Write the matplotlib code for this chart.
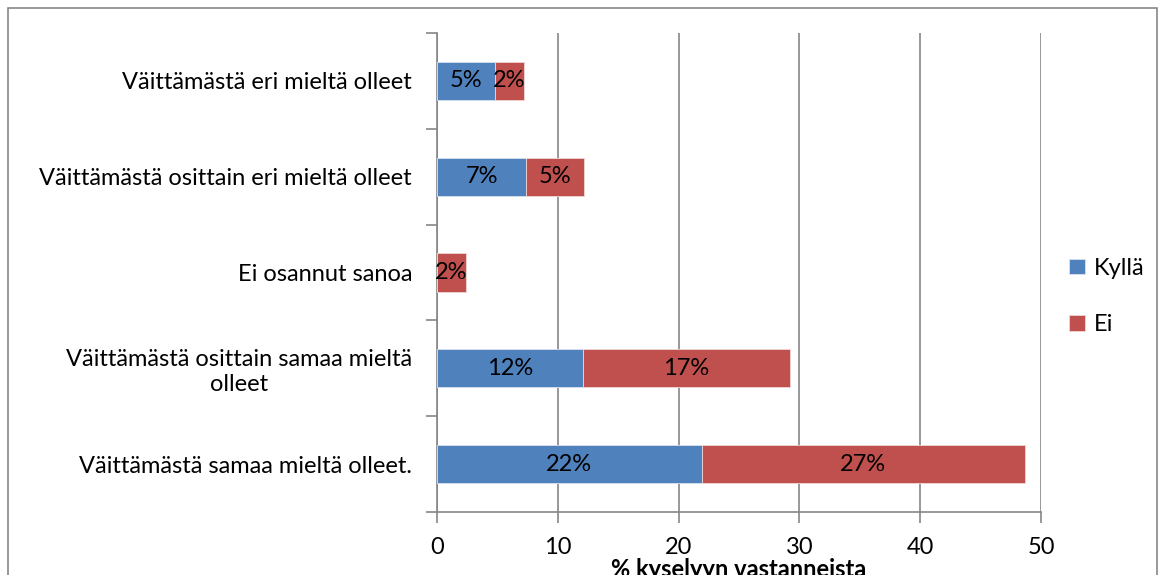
import matplotlib
matplotlib.use("Agg")
import matplotlib.pyplot as plt
from matplotlib.patches import Rectangle
import numpy as np

categories = [
    "Väittämästä samaa mieltä olleet.",
    "Väittämästä osittain samaa mieltä\nolleet",
    "Ei osannut sanoa",
    "Väittämästä osittain eri mieltä olleet",
    "Väittämästä eri mieltä olleet",
]
kylla = [21.9, 12.1, 0.0, 7.4, 4.8]
ei = [26.8, 17.1, 2.4, 4.8, 2.4]
series_names = ["Kyllä", "Ei"]
xticks = [0, 10, 20, 30, 40, 50]
xlabel = "% kyselyyn vastanneista"

blue = "#4F81BD"
red = "#C0504D"
gray = "#868686"

plt.rcParams['font.family'] = ['Lato', 'DejaVu Sans']
fs = 17

fig = plt.figure(figsize=(11.6, 5.75), dpi=100)
ax = fig.add_axes([437/1160, 1-512/575, (1041-437)/1160, (512-33)/575])

y = np.arange(len(categories))
h = 0.4
ax.barh(y, kylla, height=h, color=blue, edgecolor="#d9e2ef", linewidth=0.6, label=series_names[0], zorder=3)
ax.barh(y, ei, left=kylla, height=h, color=red, edgecolor="#efd6d5", linewidth=0.6, label=series_names[1], zorder=3)

for i in range(len(categories)):
    if kylla[i] > 0:
        ax.text(kylla[i]/2, y[i], f"{round(kylla[i]):.0f}%", ha="center", va="center", fontsize=fs, zorder=4)
    if ei[i] > 0:
        ax.text(kylla[i] + ei[i]/2, y[i], f"{round(ei[i]):.0f}%", ha="center", va="center", fontsize=fs, zorder=4)

ax.set_xlim(0, 50)
ax.set_ylim(-0.5, len(categories)-0.5)
ax.set_xticks(xticks)
ax.set_xticklabels([str(t) for t in xticks], fontsize=fs)
ax.set_yticks(y)
ax.set_yticklabels(categories, fontsize=fs)
ax.set_yticks(np.arange(-0.5, len(categories), 1), minor=True)
ax.tick_params(axis="y", which="major", length=0, pad=18)
ax.tick_params(axis="y", which="minor", length=8, color=gray, width=1.2)
ax.tick_params(axis="x", which="major", length=8, color=gray, width=1.2, pad=10)
ax.grid(axis="x", color=gray, linewidth=1.2, zorder=0)
for s in ["top", "right"]:
    ax.spines[s].set_visible(False)
for s in ["left", "bottom"]:
    ax.spines[s].set_color(gray)
    ax.spines[s].set_linewidth(1.2)
for lbl in ax.get_yticklabels():
    lbl.set_multialignment("center")

ax.set_xlabel(xlabel, fontsize=fs, fontweight="bold", labelpad=0)

ax.legend(loc="center left", bbox_to_anchor=(1.0, 0.45), frameon=False,
          fontsize=fs, handlelength=0.65, handleheight=0.65, labelspacing=1.5,
          handletextpad=0.4, borderaxespad=0.8)

fig.patches.append(Rectangle((8/1160, -0.1), (1157-8)/1160, 1.1 - 8/575,
                             transform=fig.transFigure, fill=False,
                             edgecolor=gray, linewidth=1.2, zorder=0))

fig.savefig("out.png", dpi=100)
